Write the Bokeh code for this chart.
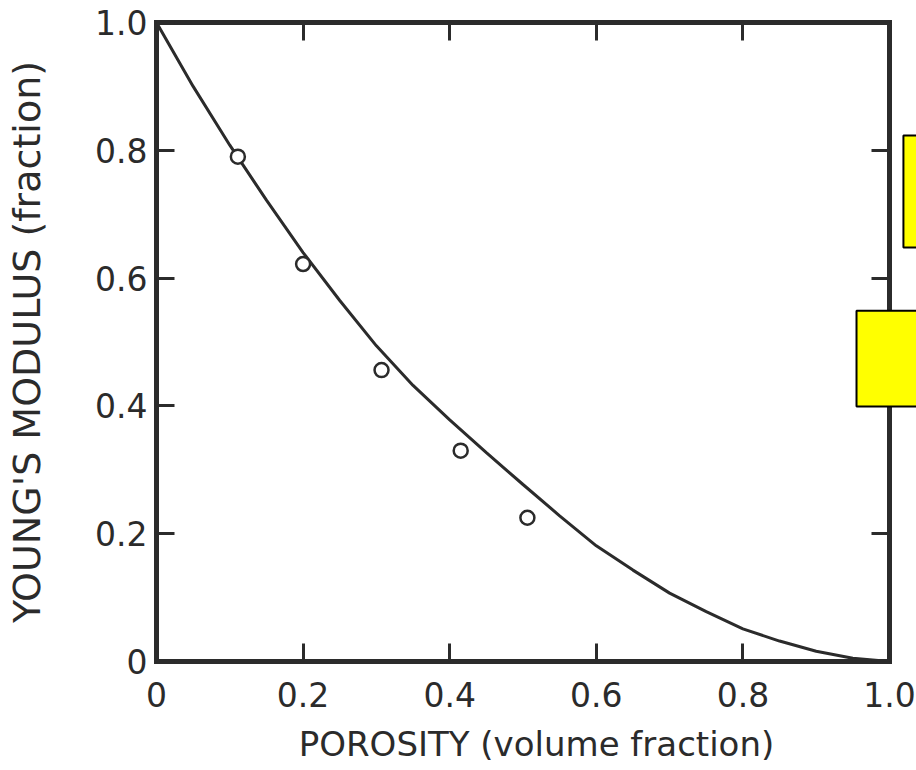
from bokeh.plotting import figure
from bokeh.models import LinearAxis, FixedTicker, BoxAnnotation, Range1d, CustomJSTickFormatter
from bokeh.embed import file_html
from bokeh.resources import INLINE

# ---- data ----
curve_porosity = [0.00, 0.05, 0.10, 0.15, 0.20, 0.25, 0.30, 0.35, 0.40, 0.45, 0.50,
                  0.55, 0.60, 0.65, 0.70, 0.75, 0.80, 0.85, 0.90, 0.95, 1.00]
curve_modulus = [1.000, 0.900, 0.808, 0.722, 0.640, 0.565, 0.494, 0.432, 0.378, 0.327, 0.277,
                 0.228, 0.181, 0.143, 0.107, 0.078, 0.051, 0.032, 0.016, 0.005, 0.000]

point_porosity = [0.111, 0.200, 0.307, 0.415, 0.506]
point_modulus = [0.790, 0.622, 0.456, 0.330, 0.225]

tick_values = [0.0, 0.2, 0.4, 0.6, 0.8, 1.0]
tick_labels = {0: "0", 1: "1.0"}

x_title = "POROSITY (volume fraction)"
y_title = "YOUNG'S MODULUS (fraction)"

INK = "#2b2b2b"
FONT = "DejaVu Sans"

p = figure(frame_width=760, frame_height=639,
           x_range=Range1d(0, 760 / 733), y_range=Range1d(0, 1),
           output_backend="svg", toolbar_location=None,
           min_border_left=156, min_border_right=0,
           min_border_top=22, min_border_bottom=105,
           background_fill_color="white", border_fill_color="white")
p.outline_line_color = None
p.grid.visible = False

def style_axis(ax, show_labels):
    ax.ticker = FixedTicker(ticks=tick_values)
    ax.bounds = (0, 1)
    ax.axis_line_color = INK
    ax.axis_line_width = 5
    ax.axis_line_cap = "square"
    ax.major_tick_line_color = INK
    ax.major_tick_line_width = 3
    ax.major_tick_in = 18
    ax.major_tick_out = 0
    ax.minor_tick_line_color = None
    if show_labels:
        ax.major_label_text_font = FONT
        ax.major_label_text_font_size = "33px"
        ax.major_label_text_color = INK
        ax.major_label_overrides = tick_labels
        ax.axis_label_text_font = FONT
        ax.axis_label_text_font_style = "normal"
        ax.axis_label_text_color = INK
    else:
        ax.formatter = CustomJSTickFormatter(code="return ''")
        ax.major_label_text_font_size = "0px"
        ax.major_label_standoff = 0

xa = p.xaxis[0]
ya = p.yaxis[0]
style_axis(xa, True)
style_axis(ya, True)
xa.axis_label = x_title
ya.axis_label = y_title
xa.axis_label_text_font_size = "34px"
ya.axis_label_text_font_size = "38px"
xa.major_label_standoff = 20
ya.major_label_standoff = 9
xa.axis_label_standoff = 14
ya.axis_label_standoff = 43

top_axis = LinearAxis()
right_axis = LinearAxis(fixed_location=1.0)
style_axis(top_axis, False)
style_axis(right_axis, False)
p.add_layout(top_axis, "above")
p.add_layout(right_axis, "right")

p.line(curve_porosity, curve_modulus, line_color=INK, line_width=3)
p.scatter(point_porosity, point_modulus, marker="circle", size=14,
          fill_color="white", line_color=INK, line_width=2.5)

# yellow cover boxes at the right edge
p.add_layout(BoxAnnotation(left=1.019, right=1.06, top=0.823, bottom=0.648,
                           fill_color="#ffff00", fill_alpha=1,
                           line_color="black", line_width=2, line_alpha=1))
p.add_layout(BoxAnnotation(left=0.955, right=1.06, top=0.549, bottom=0.399,
                           fill_color="#ffff00", fill_alpha=1,
                           line_color="black", line_width=2, line_alpha=1))

open("out.html", "w").write(file_html(p, INLINE))
